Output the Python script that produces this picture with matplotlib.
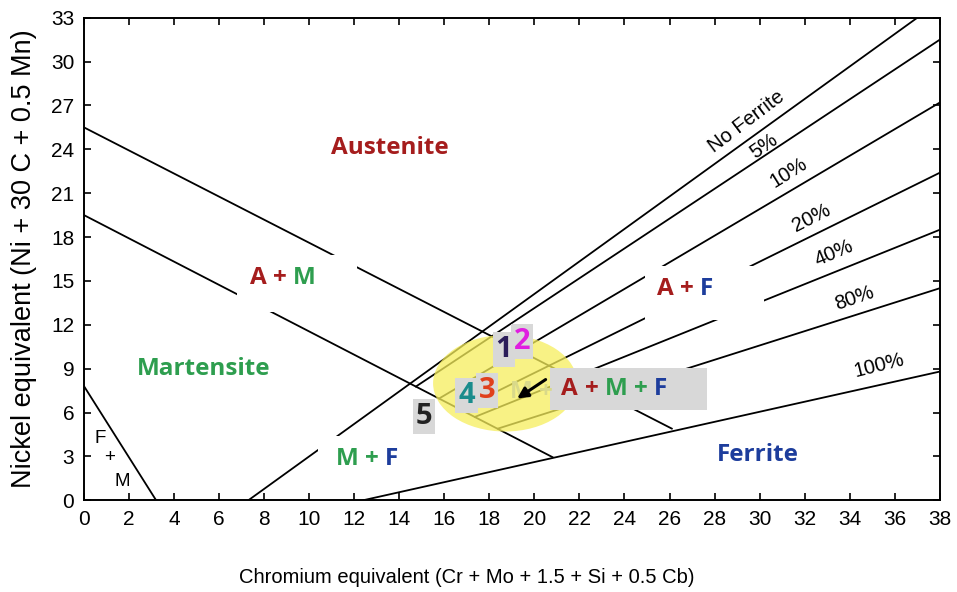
import matplotlib.pyplot as plt
from matplotlib.patches import Ellipse, Rectangle

# phase boundaries (x = Cr equivalent, y = Ni equivalent)
upper_x = [0, 26.1]
upper_y = [25.5, 4.9]
lower_x = [0, 20.8]
lower_y = [19.5, 2.95]
fm_x = [0, 3.2]
fm_y = [7.8, 0]
no_ferrite_x = [7.3, 37.0]
no_ferrite_y = [0, 33]
full_ferrite_x = [12.4, 38]
full_ferrite_y = [0, 8.8]

# ferrite percentage lines: start on the lower boundary, end on the right edge
pct_names = ["5%", "10%", "20%", "40%", "80%"]
pct_x0 = [14.74, 15.77, 16.7, 17.36, 18.38]
pct_y0 = [7.78, 6.96, 6.2, 5.7, 4.9]
pct_x1 = [38, 38, 38, 38, 38]
pct_y1 = [31.5, 27.2, 22.4, 18.5, 14.5]

# line labels
line_labels = ["No Ferrite", "5%", "10%", "20%", "40%", "80%", "100%"]
line_label_x = [29.4, 30.2, 31.3, 32.3, 33.3, 34.2, 35.3]
line_label_y = [25.9, 24.2, 22.4, 19.3, 16.9, 13.8, 9.2]
line_label_rot = [37, 35, 32, 27, 23, 19, 14]

# sample numbers
sample_ids = ["1", "2", "4", "3", "5"]
sample_x = [18.65, 19.45, 16.98, 17.9, 15.1]
sample_y = [10.3, 10.85, 7.15, 7.5, 5.7]
sample_colors = ["#2b1d5a", "#e01ee0", "#1a8c8c", "#e0401c", "#222222"]

RED = "#a51d1d"
GREEN = "#2e9e4f"
BLUE = "#1d3d9c"
LBL_FONT = "Open Sans"
AX_FONT = "Liberation Sans"
LBL_SIZE = 17.5

fig, ax = plt.subplots(figsize=(9.57, 5.92), dpi=100)
fig.subplots_adjust(left=0.0878, right=0.982, bottom=0.155, top=0.970)

for xs, ys in [(upper_x, upper_y), (lower_x, lower_y), (fm_x, fm_y),
               (no_ferrite_x, no_ferrite_y), (full_ferrite_x, full_ferrite_y)]:
    ax.plot(xs, ys, color="black", lw=1.3, zorder=2)
for i in range(len(pct_names)):
    ax.plot([pct_x0[i], pct_x1[i]], [pct_y0[i], pct_y1[i]], color="black", lw=1.3, zorder=2)

for s, x, y, r in zip(line_labels, line_label_x, line_label_y, line_label_rot):
    ax.text(x, y, s, rotation=r, ha="center", va="center", fontsize=14.5,
            family=AX_FONT, zorder=3)

ax.add_patch(Ellipse((18.7, 8.0), 6.4, 6.6, facecolor="#f6ee5c", alpha=0.75,
                     edgecolor="none", zorder=3))

# white patches behind labels (they break the lines) and the grey label box
for (x0, y0, w, h) in [(6.79, 12.9, 5.33, 3.9), (24.9, 12.3, 5.3, 3.7),
                       (10.4, 1.0, 4.3, 3.4)]:
    ax.add_patch(Rectangle((x0, y0), w, h, facecolor="white", edgecolor="none", zorder=4))
ax.add_patch(Rectangle((20.68, 6.16), 7.0, 2.88, facecolor="#d8d8d8",
                       edgecolor="none", zorder=4))


def region_label(x, y, parts, ha="left"):
    prev = None
    for s, c in parts:
        if prev is None:
            t = ax.text(x, y, s, ha=ha, va="center", fontsize=LBL_SIZE,
                        family=LBL_FONT, fontweight="bold", color=c, zorder=5)
        else:
            t = ax.annotate(s, xy=(1, 0), xycoords=prev, xytext=(0.26 * LBL_SIZE, 0),
                            textcoords="offset points", ha="left", va="bottom",
                            fontsize=LBL_SIZE, family=LBL_FONT, fontweight="bold",
                            color=c, zorder=5)
        prev = t


region_label(13.6, 24.1, [("Austenite", RED)], ha="center")
region_label(5.3, 9.0, [("Martensite", GREEN)], ha="center")
region_label(29.9, 3.1, [("Ferrite", BLUE)], ha="center")
region_label(7.37, 15.2, [("A", RED), ("+", RED), ("M", GREEN)])
region_label(25.43, 14.45, [("A", RED), ("+", RED), ("F", BLUE)])
region_label(11.19, 2.8, [("M", GREEN), ("+", GREEN), ("F", BLUE)])
region_label(21.2, 7.6, [("A", RED), ("+", RED), ("M", GREEN), ("+", GREEN), ("F", BLUE)])

# faint label left under the highlight
ax.text(19.85, 7.4, "M +", fontsize=LBL_SIZE, family=LBL_FONT, fontweight="bold",
        color="#d9d98a", ha="center", va="center", zorder=4)

for i, (s, x, y, c) in enumerate(zip(sample_ids, sample_x, sample_y, sample_colors)):
    ax.text(x, y, s, fontsize=21, family=LBL_FONT, fontweight="bold", color=c,
            ha="center", va="center", zorder=6 + i,
            bbox=dict(boxstyle="square,pad=0.1", facecolor="#d8d8d8", edgecolor="none"))

ax.annotate("", xy=(19.13, 6.85), xytext=(20.6, 8.36), zorder=20,
            arrowprops=dict(arrowstyle="-|>", color="black", lw=2.2, mutation_scale=16))

# F + M corner
for s, x, y in [("F", 0.71, 4.25), ("+", 1.15, 2.95), ("M", 1.69, 1.3)]:
    ax.text(x, y, s, fontsize=13.5, family=AX_FONT, ha="center", va="center", zorder=4)

ax.set_xlim(0, 38)
ax.set_ylim(0, 33)
ax.set_xticks(range(0, 39, 2))
ax.set_yticks(range(0, 34, 3))
ax.tick_params(direction="in", length=5, width=1.2, top=True, right=True,
               labelsize=15, pad=7)
for lab in ax.get_xticklabels() + ax.get_yticklabels():
    lab.set_family(AX_FONT)
for sp in ax.spines.values():
    sp.set_linewidth(1.4)

ax.set_xlabel("Chromium equivalent (Cr + Mo + 1.5 + Si + 0.5 Cb)", fontsize=14.5,
              family=AX_FONT)
ax.xaxis.set_label_coords(0.447, -0.141)
ax.set_ylabel("Nickel equivalent (Ni + 30 C + 0.5 Mn)", fontsize=19.5, family=AX_FONT)
ax.yaxis.set_label_coords(-0.055, 0.5)

fig.savefig("out.png", dpi=100)
